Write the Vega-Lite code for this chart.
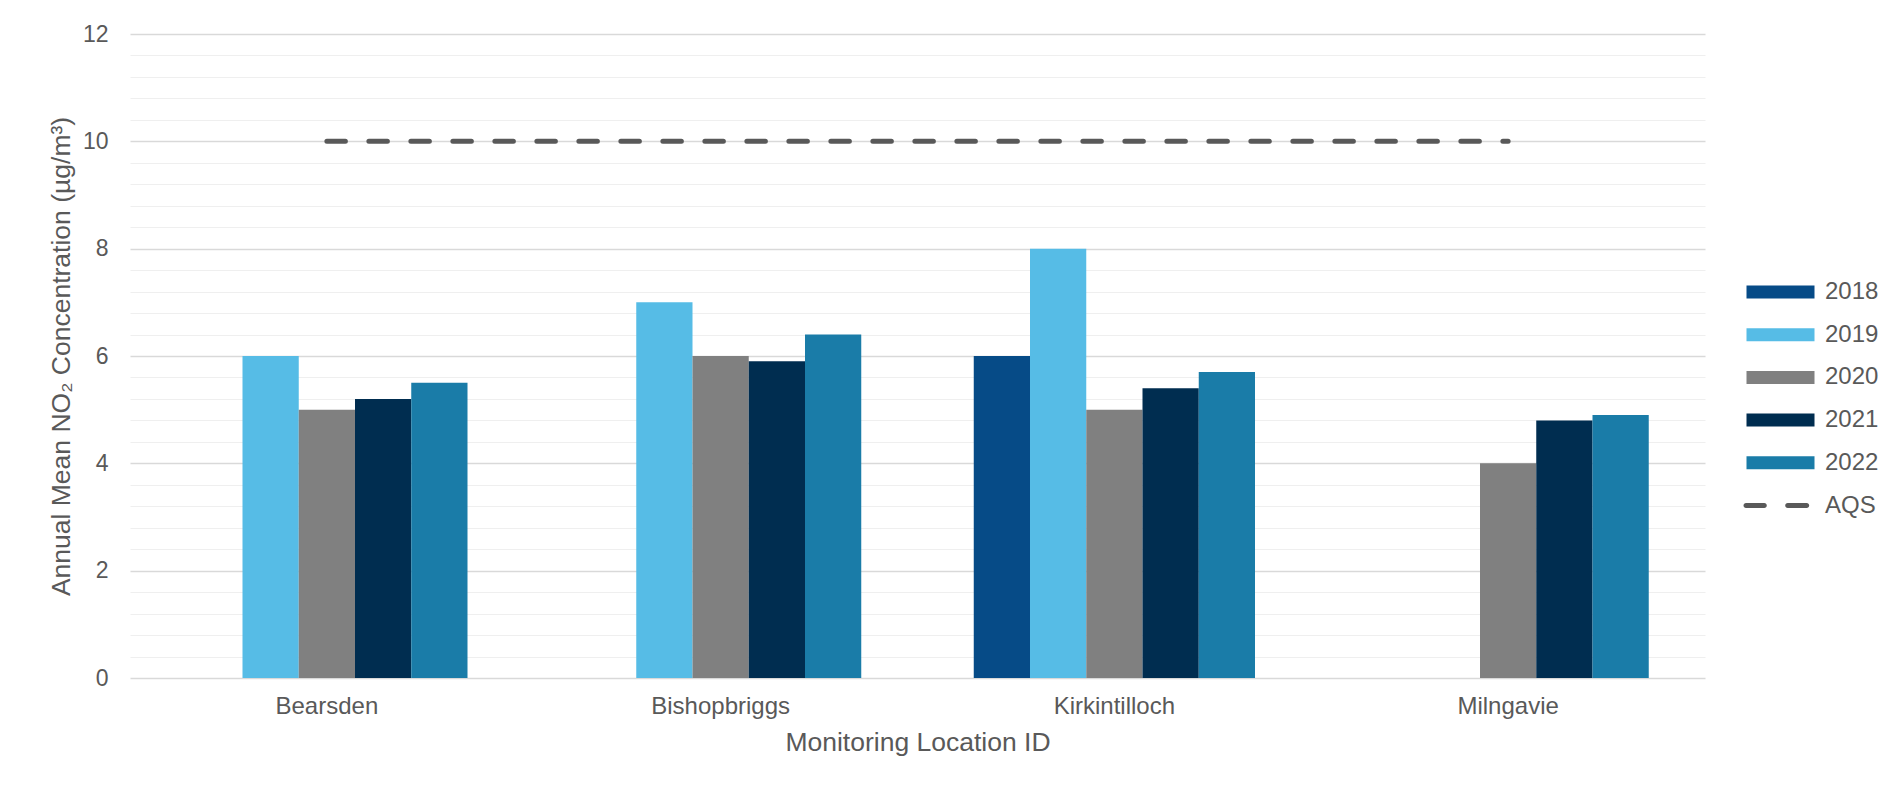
{
  "$schema": "https://vega.github.io/schema/vega-lite/v6.json",
  "width": 1575,
  "height": 644,
  "autosize": {"type": "none"},
  "padding": {"left": 130, "top": 34, "right": 198, "bottom": 109},
  "background": "#FFFFFF",
  "config": {
    "font": "Liberation Sans",
    "view": {"stroke": null},
    "axis": {
      "labelColor": "#595959",
      "titleColor": "#595959",
      "titleFontWeight": "normal",
      "domain": false,
      "ticks": false,
      "tickSize": 0
    },
    "legend": {
      "labelColor": "#595959",
      "labelFont": "Liberation Sans"
    }
  },
  "datasets": {
    "no2": [
      {"location": "Bearsden", "series": "2019", "value": 6.0},
      {"location": "Bearsden", "series": "2020", "value": 5.0},
      {"location": "Bearsden", "series": "2021", "value": 5.2},
      {"location": "Bearsden", "series": "2022", "value": 5.5},
      {"location": "Bishopbriggs", "series": "2019", "value": 7.0},
      {"location": "Bishopbriggs", "series": "2020", "value": 6.0},
      {"location": "Bishopbriggs", "series": "2021", "value": 5.9},
      {"location": "Bishopbriggs", "series": "2022", "value": 6.4},
      {"location": "Kirkintilloch", "series": "2018", "value": 6.0},
      {"location": "Kirkintilloch", "series": "2019", "value": 8.0},
      {"location": "Kirkintilloch", "series": "2020", "value": 5.0},
      {"location": "Kirkintilloch", "series": "2021", "value": 5.4},
      {"location": "Kirkintilloch", "series": "2022", "value": 5.7},
      {"location": "Milngavie", "series": "2020", "value": 4.0},
      {"location": "Milngavie", "series": "2021", "value": 4.8},
      {"location": "Milngavie", "series": "2022", "value": 4.9}
    ],
    "aqs": [
      {"location": "Bearsden", "series": "AQS", "value": 10},
      {"location": "Bishopbriggs", "series": "AQS", "value": 10},
      {"location": "Kirkintilloch", "series": "AQS", "value": 10},
      {"location": "Milngavie", "series": "AQS", "value": 10}
    ]
  },
  "layer": [
    {
      "data": {"name": "no2"},
      "mark": {"type": "bar"},
      "encoding": {
        "x": {
          "field": "location",
          "type": "nominal",
          "sort": ["Bearsden", "Bishopbriggs", "Kirkintilloch", "Milngavie"],
          "scale": {"paddingInner": 0, "paddingOuter": 0},
          "axis": {
            "title": "Monitoring Location ID",
            "labelAngle": 0,
            "labelFontSize": 24,
            "labelPadding": 16,
            "titleFontSize": 26.5,
            "titlePadding": 11,
            "grid": false
          }
        },
        "xOffset": {
          "field": "series",
          "type": "nominal",
          "sort": ["2018", "2019", "2020", "2021", "2022"],
          "scale": {"domain": ["2018", "2019", "2020", "2021", "2022"], "paddingInner": 0, "paddingOuter": 1.52}
        },
        "y": {
          "field": "value",
          "type": "quantitative",
          "scale": {"domain": [0, 12], "nice": false},
          "axis": {
            "title": "Annual Mean NO₂ Concentration (µg/m³)",
            "values": [0, 0.4, 0.8, 1.2, 1.6, 2, 2.4, 2.8, 3.2, 3.6, 4, 4.4, 4.8, 5.2, 5.6, 6, 6.4, 6.8, 7.2, 7.6, 8, 8.4, 8.8, 9.2, 9.6, 10, 10.4, 10.8, 11.2, 11.6, 12],
            "tickCount": 100,
            "tickMinStep": 0.1,
            "labelOverlap": false,
            "labelExpr": "datum.value % 2 === 0 ? format(datum.value, 'd') : ''",
            "labelFontSize": 23,
            "labelPadding": 22,
            "titleFontSize": 26.5,
            "titlePadding": 7,
            "grid": true,
            "gridColor": {"condition": {"test": "datum.value % 2 === 0", "value": "#D9D9D9"}, "value": "#EFEFEF"},
            "gridWidth": {"condition": {"test": "datum.value % 2 === 0", "value": 1.4}, "value": 1.2}
          }
        },
        "color": {
          "field": "series",
          "type": "nominal",
          "scale": {
            "domain": ["2018", "2019", "2020", "2021", "2022", "AQS"],
            "range": ["#064B87", "#56BCE6", "#808080", "#002D50", "#1A7CA8", "#595959"]
          },
          "legend": {
            "title": null,
            "orient": "none",
            "legendX": 1638.5,
            "legendY": 246,
            "padding": 0,
            "labelFontSize": 24,
            "labelOffset": 32.5,
            "rowPadding": 18.7,
            "symbolSize": 100,
            "symbolStrokeWidth": 0,
            "symbolType": "M-6.8,-1.3H6.8V1.3H-6.8Z",
            "encode": {
              "symbols": {
                "update": {
                  "shape": {"signal": "datum.value === 'AQS' ? 'M-6.9,-0.5H-3.24A0.5,0.5 0 0 1 -3.24,0.5H-6.9A0.5,0.5 0 0 1 -6.9,-0.5Z M1.44,-0.5H5.24A0.5,0.5 0 0 1 5.24,0.5H1.44A0.5,0.5 0 0 1 1.44,-0.5Z' : 'M-6.8,-1.3H6.8V1.3H-6.8Z'"},
                  "fill": {"scale": "color", "field": "value"},
                  "opacity": {"value": 1}
                }
              }
            }
          }
        }
      }
    },
    {
      "data": {"name": "aqs"},
      "mark": {
        "type": "line",
        "color": "#595959",
        "strokeWidth": 5,
        "strokeDash": [18.5, 23.5],
        "strokeCap": "round"
      },
      "encoding": {
        "x": {
          "field": "location",
          "type": "nominal",
          "sort": ["Bearsden", "Bishopbriggs", "Kirkintilloch", "Milngavie"]
        },
        "y": {"field": "value", "type": "quantitative"}
      }
    }
  ]
}
